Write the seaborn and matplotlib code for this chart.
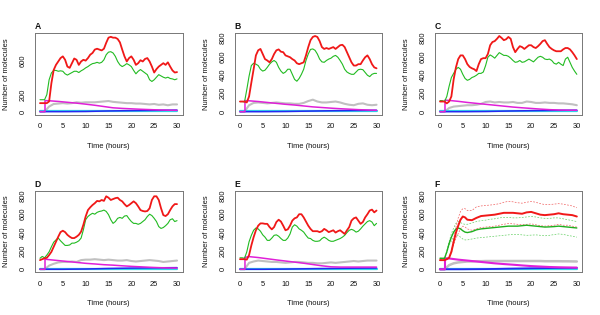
import numpy as np
import matplotlib
matplotlib.use("Agg")
import matplotlib.pyplot as plt
import seaborn as sns

# ---------------- data ----------------
panels = ["A", "B", "C", "D", "E", "F"]
t_half = np.arange(0, 30.5, 0.5)            # simulation time grid, hours

red_A = [100, 100, 100, 100, 120, 335, 490, 550, 590, 630,
         650, 610, 530, 515, 570, 625, 610, 550, 590, 610,
         600, 630, 670, 690, 730, 740, 730, 720, 740, 810,
         870, 880, 870, 870, 855, 815, 730, 650, 590, 630,
         650, 610, 550, 570, 605, 590, 620, 630, 590, 530,
         460, 500, 530, 550, 570, 550, 580, 530, 485, 460,
         465]
green_A = [140, 140, 140, 200, 375, 455, 485, 485, 475, 480,
           475, 445, 430, 445, 460, 475, 475, 460, 480, 495,
           515, 530, 550, 565, 570, 580, 570, 580, 610, 670,
           700, 705, 690, 650, 590, 550, 530, 545, 565, 550,
           530, 485, 445, 475, 495, 475, 455, 435, 375, 355,
           375, 405, 435, 420, 405, 395, 405, 390, 385, 375,
           385]
red_B = [110, 110, 110, 100, 165, 315, 460, 610, 665, 680,
         625, 570, 555, 535, 570, 625, 665, 675, 650, 645,
         610, 600, 590, 570, 555, 525, 515, 525, 535, 610,
         700, 775, 810, 820, 810, 765, 700, 680, 690, 680,
         690, 700, 680, 700, 720, 725, 700, 645, 590, 535,
         500, 500, 515, 515, 555, 590, 610, 570, 515, 480,
         470]
green_B = [110, 110, 105, 240, 385, 500, 525, 515, 500, 460,
           440, 450, 480, 515, 540, 555, 535, 480, 440, 415,
           430, 460, 460, 405, 350, 330, 360, 405, 460, 555,
           625, 675, 680, 665, 625, 570, 540, 535, 555, 570,
           580, 600, 610, 590, 555, 515, 460, 430, 415, 405,
           405, 430, 455, 460, 455, 425, 395, 380, 405, 415,
           415]
red_C = [110, 110, 110, 90, 110, 165, 350, 480, 570, 610,
         610, 570, 515, 485, 470, 460, 440, 515, 570, 580,
         580, 625, 720, 755, 765, 790, 820, 800, 775, 785,
         810, 790, 700, 645, 680, 710, 700, 680, 700, 720,
         720, 700, 690, 710, 735, 765, 775, 735, 700, 680,
         665, 655, 655, 655, 675, 690, 690, 675, 645, 610,
         570]
green_C = [120, 120, 110, 165, 275, 370, 415, 460, 480, 460,
           405, 360, 340, 350, 370, 380, 395, 415, 415, 430,
           500, 590, 615, 600, 580, 610, 640, 625, 610, 610,
           600, 580, 555, 535, 540, 555, 535, 540, 555, 570,
           555, 540, 565, 590, 600, 590, 570, 565, 570, 555,
           525, 515, 535, 515, 500, 570, 590, 535, 480, 440,
           405]
red_D = [100, 110, 120, 125, 155, 190, 245, 300, 355, 405,
         420, 405, 375, 355, 340, 340, 355, 375, 410, 485,
         575, 645, 675, 700, 720, 745, 740, 755, 745, 795,
         780, 755, 765, 775, 780, 755, 740, 710, 685, 700,
         720, 740, 720, 685, 645, 635, 630, 635, 665, 755,
         795, 795, 755, 665, 590, 580, 600, 645, 685, 710,
         710]
green_D = [120, 140, 125, 155, 190, 245, 295, 320, 340, 310,
           285, 260, 260, 265, 285, 285, 295, 310, 340, 430,
           540, 575, 595, 610, 600, 620, 630, 635, 645, 630,
           595, 540, 500, 520, 555, 565, 555, 580, 585, 550,
           520, 500, 500, 490, 500, 520, 540, 575, 600, 585,
           555, 520, 465, 445, 455, 475, 500, 540, 550, 520,
           530]
red_E = [110, 110, 110, 105, 155, 260, 350, 425, 475, 500,
         500, 495, 495, 460, 435, 460, 515, 540, 520, 475,
         425, 435, 475, 530, 555, 565, 600, 600, 565, 520,
         475, 440, 415, 415, 415, 405, 415, 440, 425, 405,
         415, 425, 400, 415, 425, 405, 385, 425, 460, 530,
         555, 565, 530, 495, 515, 565, 600, 640, 650, 620,
         640]
green_E = [125, 125, 120, 190, 300, 370, 425, 450, 440, 415,
           375, 350, 315, 315, 340, 370, 375, 360, 335, 315,
           315, 340, 385, 460, 485, 470, 440, 425, 405, 370,
           340, 335, 315, 305, 305, 310, 335, 350, 335, 315,
           305, 305, 315, 325, 335, 350, 370, 400, 425, 435,
           425, 405, 415, 440, 470, 495, 520, 530, 515, 475,
           500]

# panel F: averages and +/- bands
t_F = [0, 1, 1.5, 2, 2.5, 3, 3.5, 4, 4.5, 5, 5.5, 6, 7, 8, 9, 10, 11, 12,
       13, 14, 15, 16, 17, 18, 19, 20, 21, 22, 23, 24, 25, 26, 27, 28, 29, 30]
red_F = [100, 100, 110, 125, 190, 300, 400, 475, 540, 575, 565, 540, 535, 560,
         580, 585, 590, 595, 605, 615, 615, 615, 610, 605, 620, 625, 610, 595,
         590, 595, 600, 610, 600, 595, 590, 575]
red_F_hi = [100, 100, 110, 125, 200, 330, 460, 560, 630, 660, 660, 640, 640, 680,
            690, 695, 700, 705, 715, 730, 740, 735, 725, 720, 730, 740, 730, 715,
            705, 705, 710, 715, 710, 700, 690, 670]
red_F_lo = [100, 100, 110, 125, 180, 270, 340, 390, 440, 470, 460, 440, 425, 440,
            455, 460, 465, 470, 480, 490, 500, 495, 490, 485, 490, 495, 485, 475,
            470, 475, 480, 490, 480, 480, 470, 460]
green_F = [120, 120, 190, 280, 350, 405, 440, 450, 440, 420, 405, 400, 410, 430,
           440, 445, 450, 455, 460, 465, 470, 470, 470, 475, 480, 475, 470, 465,
           460, 462, 465, 470, 465, 460, 455, 450]
green_F_hi = [120, 120, 200, 300, 390, 450, 500, 520, 510, 495, 490, 490, 505, 520,
              530, 535, 545, 550, 560, 565, 565, 560, 560, 565, 570, 575, 570, 560,
              555, 555, 560, 560, 550, 540, 530, 520]
green_F_lo = [120, 120, 180, 260, 310, 350, 370, 370, 350, 330, 320, 320, 330, 340,
              345, 350, 355, 360, 365, 370, 375, 380, 380, 375, 370, 372, 375, 370,
              365, 370, 378, 385, 380, 370, 360, 350]

# low-level species, hourly
t_hour = np.arange(0, 31, 1)
gray_A = [0, 0, 60, 90, 95, 100, 95, 100, 110, 105, 110, 110, 110, 115, 120, 125,
          115, 110, 105, 100, 100, 95, 95, 90, 85, 90, 80, 85, 75, 85, 85]
gray_B = [0, 0, 70, 95, 100, 95, 90, 95, 100, 95, 90, 90, 85, 85, 95, 115, 130,
          110, 100, 100, 105, 110, 100, 85, 75, 70, 85, 90, 75, 70, 75]
gray_C = [0, 0, 40, 55, 60, 65, 70, 70, 75, 85, 105, 110, 100, 105, 100, 100, 105,
          95, 95, 110, 105, 95, 95, 100, 95, 95, 90, 90, 85, 80, 70]
gray_D = [0, 0, 40, 60, 75, 80, 80, 85, 80, 100, 105, 105, 110, 105, 100, 105, 100,
          95, 95, 100, 90, 85, 90, 95, 100, 95, 90, 80, 85, 90, 95]
gray_E = [0, 0, 70, 85, 95, 90, 85, 80, 80, 75, 70, 75, 80, 80, 75, 70, 70, 65, 65,
          70, 75, 70, 75, 80, 85, 90, 85, 90, 95, 95, 95]
gray_F = [0, 0, 45, 65, 75, 80, 85, 85, 88, 88, 90, 90, 90, 90, 90, 90, 90, 90, 90,
          90, 90, 90, 90, 88, 88, 88, 88, 87, 87, 86, 85]

t_mag = [0, 1.1, 1.1, 2, 4, 6, 8, 10, 12, 14, 16, 18, 20, 22, 24, 26, 28, 30]
mag_A = [0, 0, 130, 128, 120, 110, 100, 88, 75, 60, 45, 38, 33, 28, 24, 20, 17, 15]
mag_B = [0, 0, 120, 118, 110, 100, 90, 80, 72, 62, 52, 45, 38, 32, 27, 22, 18, 15]
mag_C = [0, 0, 125, 122, 112, 100, 90, 80, 70, 60, 50, 42, 35, 28, 22, 18, 16, 15]
mag_D = [0, 0, 110, 105, 95, 85, 75, 65, 58, 50, 45, 38, 32, 27, 22, 18, 15, 13]
mag_E = [0, 0, 130, 138, 128, 115, 102, 90, 78, 66, 52, 38, 27, 24, 24, 24, 24, 24]
mag_F = [0, 0, 120, 118, 105, 95, 85, 75, 65, 57, 50, 42, 35, 30, 25, 22, 20, 18]

t_low = [0, 5, 10, 15, 20, 25, 30]
blue_A = [0, 0, 2, 8, 12, 15, 18]
blue_B = [0, 0, 2, 6, 10, 13, 15]
blue_C = [0, 0, 2, 7, 11, 14, 16]
blue_D = [0, 0, 3, 9, 13, 16, 18]
blue_E = [0, 0, 2, 6, 9, 12, 14]
blue_F = [0, 0, 2, 7, 11, 14, 16]
cyan_all = [2, 2, 2, 2, 2, 2, 2]

y_ticks = [0, 200, 400, 600, 800]
y_labels_A = ["0", "200", "", "600", ""]
y_labels = ["0", "200", "400", "600", "800"]
x_ticks = [0, 5, 10, 15, 20, 25, 30]

# ---------------- style ----------------
sns.set_style("white")
plt.rcParams['font.family'] = ['Liberation Sans', 'DejaVu Sans']

C_RED = "#F01818"
C_GREEN = "#22BB22"
C_GRAY = "#C0C0C0"
C_MAG = "#E020D8"
C_CYAN = "#30D8E8"
C_BLUE = "#2828F0"

W, H = 600.0, 315.0
boxes = {  # left, top, right, bottom in pixels
    "A": (34.5, 33.0, 182.5, 114.7),
    "B": (234.5, 33.0, 382.0, 114.7),
    "C": (434.5, 33.0, 582.3, 114.7),
    "D": (34.5, 191.0, 182.5, 272.3),
    "E": (234.5, 191.0, 382.0, 272.3),
    "F": (434.5, 191.0, 582.3, 272.3),
}

series = {
    "A": (red_A, green_A, gray_A, mag_A, blue_A),
    "B": (red_B, green_B, gray_B, mag_B, blue_B),
    "C": (red_C, green_C, gray_C, mag_C, blue_C),
    "D": (red_D, green_D, gray_D, mag_D, blue_D),
    "E": (red_E, green_E, gray_E, mag_E, blue_E),
}
F_low = (gray_F, mag_F, blue_F)

fig = plt.figure(figsize=(6, 3.15), dpi=100)
FS = 5.4

for p in panels:
    l, t, r, b = boxes[p]
    ax = fig.add_axes([l / W, 1 - b / H, (r - l) / W, (b - t) / H])
    kw = dict(ax=ax, estimator=None, sort=False, legend=False)

    if p != "F":
        red, green, gray, mag, blue = series[p]
        sns.lineplot(x=t_hour, y=gray, color=C_GRAY, linewidth=1.5, **kw)
        sns.lineplot(x=t_low, y=cyan_all, color=C_CYAN, linewidth=1.6, **kw)
        sns.lineplot(x=t_low, y=blue, color=C_BLUE, linewidth=1.1, **kw)
        sns.lineplot(x=t_mag, y=mag, color=C_MAG, linewidth=1.1, **kw)
        sns.lineplot(x=t_half, y=green, color=C_GREEN, linewidth=0.8, **kw)
        sns.lineplot(x=t_half, y=red, color=C_RED, linewidth=1.3, **kw)
    else:
        gray, mag, blue = F_low
        sns.lineplot(x=t_hour, y=gray, color=C_GRAY, linewidth=1.8, **kw)
        sns.lineplot(x=t_low, y=cyan_all, color=C_CYAN, linewidth=1.6, **kw)
        sns.lineplot(x=t_low, y=blue, color=C_BLUE, linewidth=1.3, **kw)
        sns.lineplot(x=t_mag, y=mag, color=C_MAG, linewidth=1.5, **kw)
        for band in (green_F_hi, green_F_lo):
            ln = sns.lineplot(x=t_F, y=band, color="#66D066", linewidth=0.5, **kw)
            ax.lines[-1].set_dashes([2.5, 2])
        for band in (red_F_hi, red_F_lo):
            sns.lineplot(x=t_F, y=band, color="#F06060", linewidth=0.5, **kw)
            ax.lines[-1].set_dashes([2.5, 2])
        sns.lineplot(x=t_F, y=green_F, color="#1FAF1F", linewidth=1.0, **kw)
        sns.lineplot(x=t_F, y=red_F, color=C_RED, linewidth=1.4, **kw)

    ax.set_xlim(-1.2, 31.2)
    if p == "A":
        ax.set_ylim(-36, 925)
    else:
        ax.set_ylim(-32.8, 852.8)

    ax.set_xticks(x_ticks)
    ax.set_xticklabels([str(v) for v in x_ticks])
    ax.set_yticks(y_ticks)
    ax.set_yticklabels(y_labels_A if p == "A" else y_labels,
                       rotation=90, va="center")
    ax.tick_params(axis="both", direction="out", length=3, width=0.6,
                   color="#333333", labelsize=FS, labelcolor="#111111")
    ax.tick_params(axis="x", pad=3.0)
    ax.tick_params(axis="y", pad=2.4)
    for s in ax.spines.values():
        s.set_color("#777777")
        s.set_linewidth(0.7)
    ax.set_xlabel("Time (hours)", fontsize=FS, labelpad=9, color="#111111")
    ax.set_ylabel("Number of molecules", fontsize=FS, labelpad=7, color="#111111")
    ax.text(0.0, 1.025, p, transform=ax.transAxes, ha="left", va="bottom",
            fontsize=6.2, fontweight="bold", color="#111111")

fig.savefig("out.png", dpi=100)
